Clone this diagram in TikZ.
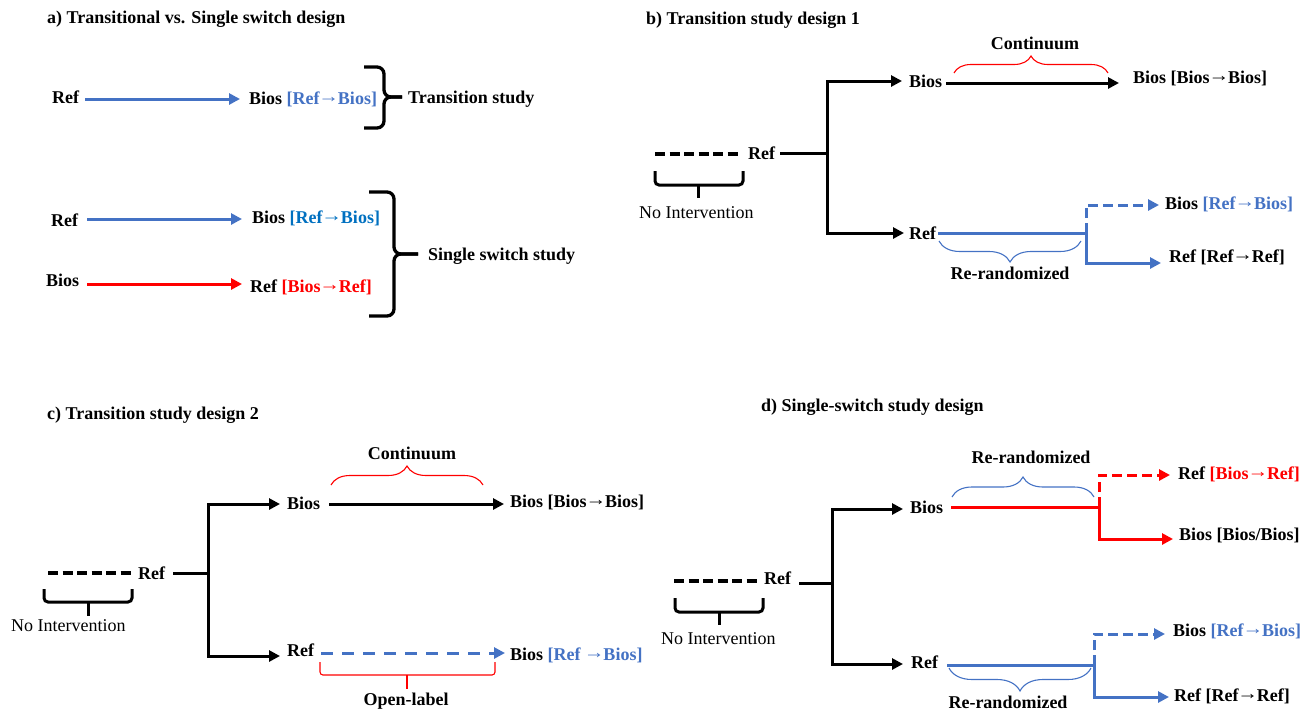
\documentclass[tikz,border=0pt]{standalone}
\usepackage{fontspec}
\setmainfont{Liberation Serif}
\usetikzlibrary{arrows.meta,decorations.pathreplacing}
\definecolor{myblue}{HTML}{4472C4}
\definecolor{myblueb}{HTML}{0070C0}
\definecolor{myred}{HTML}{FF0000}
\newcommand\myarr{\kern-1.2pt\raisebox{1.5pt}{\scalebox{1.15}[1]{→}}\kern-1.2pt}
\begin{document}
\begin{tikzpicture}[x=1pt,y=-1pt,
  every node/.style={font=\fontsize{18}{21}\selectfont\bfseries, inner sep=0pt},
  lbl/.style={anchor=base west},
  ctr/.style={anchor=base},
  thk/.style={line width=3pt},
  ar/.style={thk,-{Triangle[length=11pt,width=11pt]}},
  dsh/.style={line width=3.5pt,dash pattern=on 10pt off 4.5pt},
  dshb/.style={thk,dash pattern=on 10pt off 5pt},
  dshc/.style={thk,dash pattern=on 12pt off 9pt},
  bigbr/.style={line width=3.3pt,rounded corners=7pt},
  ubr/.style={thk,rounded corners=4pt},
  thinbr/.style={line width=1.1pt,decorate},
]
\useasboundingbox (0,0) rectangle (1309,710);

% ---------------- panel a ----------------
\node[lbl] (aT) at (47,23) {a) Transitional vs. Single switch design};
\node[lbl] (aR1) at (52,103) {Ref};
\node[lbl] (aB1) at (249,104) {Bios \textcolor{myblue}{[Ref\myarr Bios]}};
\coordinate (a1s) at (85,99); \coordinate (a1e) at (240,99);
\draw[ar,myblue] (a1s) -- (a1e);
\draw[bigbr] (364,67) -- (384,67) -- (384,97) -- (402,97);
\draw[bigbr] (364,128) -- (384,128) -- (384,97) -- (402,97);
\node[lbl] (aTS) at (408,103) {Transition study};

\node[lbl] (aR2) at (51,226) {Ref};
\node[lbl] (aB2) at (252,223) {Bios \textcolor{myblueb}{[Ref\myarr Bios]}};
\coordinate (a2s) at (87,219); \coordinate (a2e) at (242,219);
\draw[ar,myblue] (a2s) -- (a2e);
\node[lbl] (aB3) at (46,286) {Bios};
\node[lbl] (aR3) at (250,292) {Ref \textcolor{myred}{[Bios\myarr Ref]}};
\coordinate (a3s) at (87,284); \coordinate (a3e) at (242,284);
\draw[ar,myred] (a3s) -- (a3e);
\draw[bigbr] (369,192) -- (394,192) -- (394,254) -- (418,254);
\draw[bigbr] (369,316) -- (394,316) -- (394,254) -- (418,254);
\node[lbl] (aSS) at (428,260) {Single switch study};

% ---------------- panel b ----------------
\node[lbl] (bT) at (646,24) {b) Transition study design 1};
\node[ctr] (bCont) at (1035,49) {Continuum};
\draw[thinbr,myred,decoration={brace,amplitude=17pt}] (954,73) -- (1108,73);
\node[lbl] (bBios) at (909,87) {Bios};
\coordinate (bb1) at (946,83); \coordinate (bb2) at (1119,83);
\draw[ar] (bb1) -- (bb2);
\node[lbl] (bBB) at (1133,83) {Bios [Bios\myarr Bios]};
\coordinate (bd1) at (655,154); \coordinate (bd2) at (742,154);
\draw[dsh] (bd1) -- (bd2);
\node[lbl] (bRef) at (748,159) {Ref};
\coordinate (bh1) at (780,153); \coordinate (bv) at (827,153);
\coordinate (bup) at (902,81); \coordinate (bdn) at (904,233);
\draw[thk] (bh1) -- (bv);
\draw[ar] (bv) |- (bup);
\draw[ar] (bv) |- (bdn);
\draw[ubr] (655,171) -- (655,185) -- (743,185) -- (743,171);
\draw[thk] (698,185) -- (698,198);
\node[lbl,font=\fontsize{18}{21}\selectfont\mdseries] (bNI) at (639,218) {No Intervention};
\node[lbl] (bRef2) at (909,239) {Ref};
\coordinate (bl1) at (938,233); \coordinate (bsp) at (1086,233);
\coordinate (bt1) at (1159,205); \coordinate (bt2) at (1161,263);
\draw[thk,myblue] (bl1) -- (bsp);
\draw[dshb,myblue,-{Triangle[length=11pt,width=11pt]}] (bsp) |- (bt1);
\draw[ar,myblue] (bsp) |- (bt2);
\node[lbl] (bBR) at (1165,209) {Bios \textcolor{myblue}{[Ref\myarr Bios]}};
\node[lbl] (bRR) at (1169,262) {Ref [Ref\myarr Ref]};
\draw[thinbr,myblue,decoration={brace,amplitude=21pt}] (1081,241) -- (939,241);
\node[ctr] (bRe) at (1010,279) {Re-randomized};

% ---------------- panel c ----------------
\node[lbl] (cT) at (47,419) {c) Transition study design 2};
\node[ctr] (cCont) at (412,459) {Continuum};
\draw[thinbr,myred,decoration={brace,amplitude=19pt}] (331,485) -- (483,485);
\node[lbl] (cBios) at (287,509) {Bios};
\coordinate (cb1) at (329,504); \coordinate (cb2) at (504,504);
\draw[ar] (cb1) -- (cb2);
\node[lbl] (cBB) at (510,507) {Bios [Bios\myarr Bios]};
\coordinate (cd1) at (48,573); \coordinate (cd2) at (131,573);
\draw[dsh] (cd1) -- (cd2);
\node[lbl] (cRef) at (138,579) {Ref};
\coordinate (ch1) at (173,573); \coordinate (cv) at (208,573);
\coordinate (cup) at (280,504); \coordinate (cdn) at (280,656);
\draw[thk] (ch1) -- (cv);
\draw[ar] (cv) |- (cup);
\draw[ar] (cv) |- (cdn);
\draw[ubr] (44,589) -- (44,602) -- (132,602) -- (132,589);
\draw[thk] (88,602) -- (88,616);
\node[lbl,font=\fontsize{18}{21}\selectfont\mdseries] (cNI) at (11,631) {No Intervention};
\node[lbl] (cRef2) at (287,656) {Ref};
\coordinate (cl1) at (321,653); \coordinate (cl2) at (505,653);
\draw[dshc,myblue,-{Triangle[length=11pt,width=11pt]}] (cl1) -- (cl2);
\node[lbl] (cBR) at (510,660) {Bios \textcolor{myblue}{[Ref \myarr Bios]}};
\draw[line width=1.1pt,myred,rounded corners=3pt] (320,662) -- (320,675) -- (495,675) -- (495,662);
\draw[line width=1.5pt,myred] (407,675) -- (407,689);
\node[ctr] (cOL) at (406,705) {Open-label};

% ---------------- panel d ----------------
\node[lbl] (dT) at (761,411) {d) Single-switch study design};
\node[ctr] (dRe1) at (1031,463) {Re-randomized};
\draw[thinbr,myblue,decoration={brace,amplitude=20pt}] (952,497) -- (1094,497);
\node[lbl] (dBios) at (910,513) {Bios};
\coordinate (dl1) at (951,507); \coordinate (dsp1) at (1099,507);
\coordinate (dt1) at (1170,475); \coordinate (dt2) at (1173,539);
\draw[thk,myred] (dl1) -- (dsp1);
\draw[dshb,myred,-{Triangle[length=11pt,width=11pt]}] (dsp1) |- (dt1);
\draw[ar,myred] (dsp1) |- (dt2);
\node[lbl] (dRB) at (1178,479) {Ref \textcolor{myred}{[Bios\myarr Ref]}};
\node[lbl] (dBB) at (1179,540) {Bios [Bios/Bios]};
\coordinate (dd1) at (674,581); \coordinate (dd2) at (758,581);
\draw[dsh] (dd1) -- (dd2);
\node[lbl] (dRef) at (764,584) {Ref};
\coordinate (dh1) at (799,583); \coordinate (dv) at (832,583);
\coordinate (dup) at (903,509); \coordinate (ddn) at (903,664);
\draw[thk] (dh1) -- (dv);
\draw[ar] (dv) |- (dup);
\draw[ar] (dv) |- (ddn);
\draw[ubr] (675,598) -- (675,612) -- (763,612) -- (763,598);
\draw[thk] (719,612) -- (719,625);
\node[lbl,font=\fontsize{18}{21}\selectfont\mdseries] (dNI) at (661,644) {No Intervention};
\node[lbl] (dRef2) at (911,668) {Ref};
\coordinate (dl2) at (947,665); \coordinate (dsp2) at (1094,665);
\coordinate (dt3) at (1165,634); \coordinate (dt4) at (1169,697);
\draw[thk,myblue] (dl2) -- (dsp2);
\draw[dshb,myblue,-{Triangle[length=11pt,width=11pt]}] (dsp2) |- (dt3);
\draw[ar,myblue] (dsp2) |- (dt4);
\node[lbl] (dBR) at (1173,636) {Bios \textcolor{myblue}{[Ref\myarr Bios]}};
\node[lbl] (dRR) at (1174,701) {Ref [Ref\myarr Ref]};
\draw[thinbr,myblue,decoration={brace,amplitude=23pt}] (1091,668) -- (949,668);
\node[ctr] (dRe2) at (1008,708) {Re-randomized};
\end{tikzpicture}
\end{document}
